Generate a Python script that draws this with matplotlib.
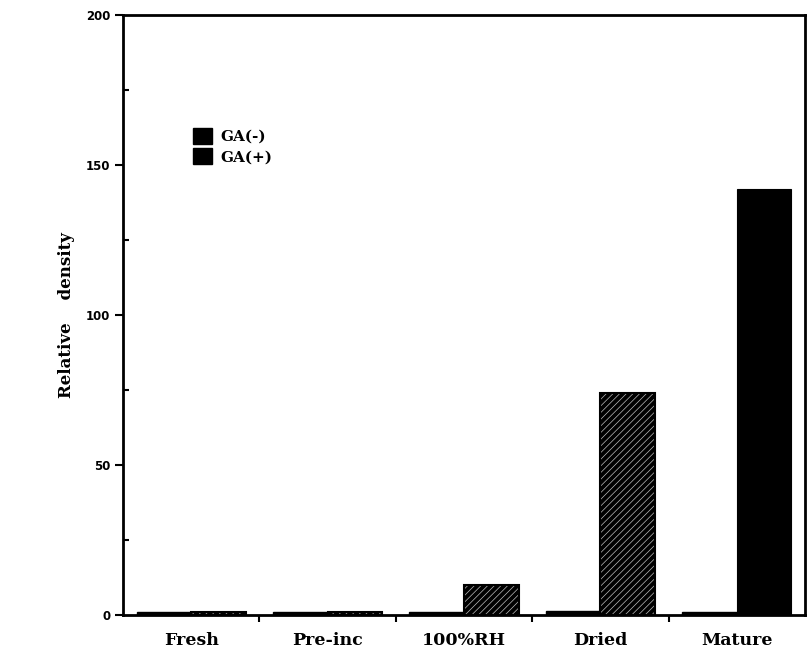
import matplotlib
matplotlib.use("Agg")
import matplotlib.pyplot as plt
from matplotlib.patches import Patch
import numpy as np

# Data
categories = ["Fresh", "Pre-inc", "100%RH", "Dried", "Mature"]
ga_minus = [1.0, 1.0, 1.0, 1.5, 1.0]
ga_plus = [1.0, 1.0, 10.0, 74.0, 142.0]
plus_hatched = [True, True, True, True, False]
yticks = [0, 50, 100, 150, 200]
series_labels = ["GA(-)", "GA(+)"]

plt.rcParams["hatch.linewidth"] = 0.5

fig = plt.figure(figsize=(8.12, 6.58), dpi=100)
ax = fig.add_axes([0.1515, 0.0653, 0.8399, 0.9117])

x = np.arange(len(categories))
w = 0.40

ax.bar(x - w / 2, ga_minus, width=w, color="black", edgecolor="black", linewidth=1.0)

for xi, v, hatched in zip(x, ga_plus, plus_hatched):
    if hatched:
        ax.bar(xi + w / 2, v, width=w, color="black", edgecolor="#bdbdbd",
               hatch="/////", linewidth=0)
        ax.bar(xi + w / 2, v, width=w, facecolor="none", edgecolor="black", linewidth=1.5)
    else:
        ax.bar(xi + w / 2, v, width=w, color="black", edgecolor="black", linewidth=0.8)

ax.set_xlim(-0.5, len(categories) - 0.5)
ax.set_ylim(0, 200)

for s in ax.spines.values():
    s.set_linewidth(2.0)

# Y axis ticks
ax.set_yticks(yticks)
ax.set_yticklabels([str(t) for t in yticks], fontsize=8.5, fontweight="bold",
                   family="DejaVu Sans")
ax.set_yticks(np.arange(25, 200, 50), minor=True)
ax.tick_params(axis="y", which="major", direction="out", length=6, width=1.5, pad=3)
ax.tick_params(axis="y", which="minor", direction="in", length=4, width=1.5)

# X axis: labels at group centres, small ticks between groups
ax.set_xticks(x)
ax.set_xticklabels(categories, fontsize=12.5, fontweight="bold",
                   family="DejaVu Serif")
ax.set_xticks(np.arange(0.5, len(categories) - 0.5, 1.0), minor=True)
ax.tick_params(axis="x", which="major", length=0, pad=12)
ax.tick_params(axis="x", which="minor", direction="out", length=5, width=1.5)

ax.set_ylabel("Relative    density", fontsize=12, fontweight="bold",
              family="DejaVu Serif", labelpad=8)

handles = [Patch(facecolor="black", edgecolor="black"),
           Patch(facecolor="black", edgecolor="black")]
leg = ax.legend(handles, series_labels, loc="upper left",
                bbox_to_anchor=(0.083, 0.835), frameon=False,
                prop={"family": "DejaVu Serif", "weight": "bold", "size": 11},
                handlelength=1.2, handleheight=1.2, handletextpad=0.6,
                labelspacing=0.3)

fig.savefig("out.png", dpi=100)
